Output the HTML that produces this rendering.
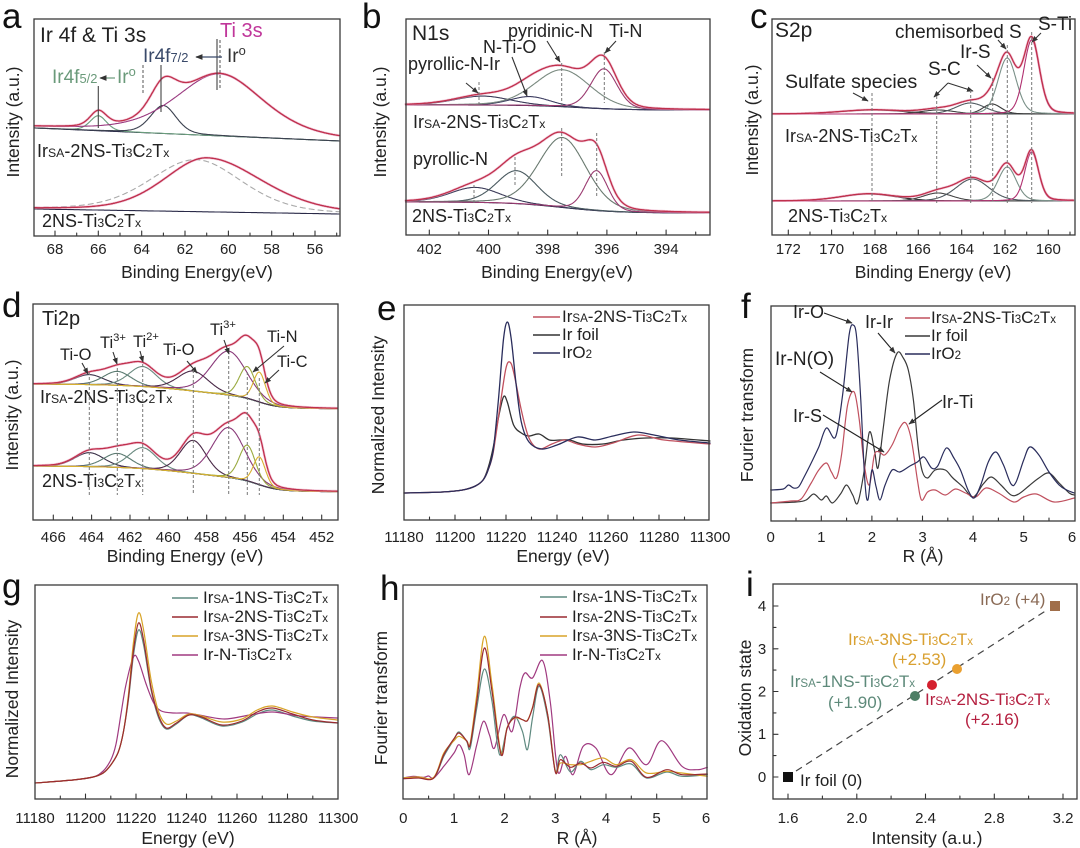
<!DOCTYPE html>
<html><head><meta charset="utf-8"><style>
html,body{margin:0;padding:0;background:#fff;}
svg{display:block;}
text{font-family:"Liberation Sans",Arial,sans-serif;fill:#222;}
.s{font-size:68%;}
.tk{font-size:15px;text-anchor:middle;}
.ti{font-size:17.5px;text-anchor:middle;}
.L{font-size:35px;fill:#111;}
.an{font-size:18px;}
.ad{font-size:16.5px;}
.lg{font-size:17px;}
</style></head><body>
<svg id="cv" width="1080" height="848" viewBox="0 0 1080 848" xmlns="http://www.w3.org/2000/svg">
<defs><marker id="ah" viewBox="0 0 10 10" refX="9" refY="5" markerWidth="6" markerHeight="6" orient="auto"><path d="M0,1L10,5L0,9z" fill="#333"/></marker></defs>
<rect width="1080" height="848" fill="#fff"/>
<g id="curves"></g>

<!-- frames -->
<g fill="none" stroke="#3a3a3a" stroke-width="1.3">
<rect x="34" y="19" width="306" height="217"/>
<rect x="406" y="19" width="304" height="216"/>
<rect x="772" y="19" width="303" height="216"/>
<rect x="33" y="304" width="305" height="216"/>
<rect x="404" y="305" width="305" height="215"/>
<rect x="771" y="306" width="304" height="215"/>
<rect x="35" y="585" width="303" height="214"/>
<rect x="403" y="585" width="304" height="214"/>
<rect x="773" y="584" width="304" height="215"/>
</g>

<!-- panel letters -->
<text class="L" x="2" y="28">a</text>
<text class="L" x="362" y="28">b</text>
<text class="L" x="750" y="28">c</text>
<text class="L" x="2" y="317">d</text>
<text class="L" x="377" y="320">e</text>
<text class="L" x="741" y="318">f</text>
<text class="L" x="2" y="598">g</text>
<text class="L" x="380" y="600">h</text>
<text class="L" x="746" y="596">i</text>

<!-- axis titles -->
<text class="ti" x="197" y="278">Binding Energy(eV)</text>
<text class="ti" x="557" y="278">Binding Energy(eV)</text>
<text class="ti" x="933" y="278">Binding Energy (eV)</text>
<text class="ti" x="185" y="562">Binding Energy (eV)</text>
<text class="ti" x="563" y="562">Energy (eV)</text>
<text class="ti" x="923" y="562">R (Å)</text>
<text class="ti" x="188" y="844">Energy (eV)</text>
<text class="ti" x="577" y="844">R (Å)</text>
<text class="ti" x="927" y="844">Intensity (a.u.)</text>

<text class="ti" transform="translate(19,122) rotate(-90)">Intensity (a.u.)</text>
<text class="ti" transform="translate(386,122) rotate(-90)">Intensity (a.u.)</text>
<text class="ti" transform="translate(758,120) rotate(-90)">Intensity (a.u.)</text>
<text class="ti" transform="translate(18,415) rotate(-90)">Intensity (a.u.)</text>
<text class="ti" transform="translate(384,415) rotate(-90)">Normalized Intensity</text>
<text class="ti" transform="translate(753,415) rotate(-90)">Fourier transform</text>
<text class="ti" transform="translate(18,699) rotate(-90)">Normalized Intensity</text>
<text class="ti" transform="translate(387,698) rotate(-90)">Fourier transform</text>
<text class="ti" transform="translate(751,698) rotate(-90)">Oxidation state</text>

<!-- tick labels -->
<g class="tk">
<text class="tk" x="55" y="254">68</text><text class="tk" x="98.3" y="254">66</text><text class="tk" x="141.7" y="254">64</text><text class="tk" x="185" y="254">62</text><text class="tk" x="228.3" y="254">60</text><text class="tk" x="271.7" y="254">58</text><text class="tk" x="315" y="254">56</text>
<text class="tk" x="429.3" y="254">402</text><text class="tk" x="488.5" y="254">400</text><text class="tk" x="547.7" y="254">398</text><text class="tk" x="606.9" y="254">396</text><text class="tk" x="666.1" y="254">394</text>
<text class="tk" x="788.3" y="254">172</text><text class="tk" x="831.6" y="254">170</text><text class="tk" x="875" y="254">168</text><text class="tk" x="918.3" y="254">166</text><text class="tk" x="961.6" y="254">164</text><text class="tk" x="1005" y="254">162</text><text class="tk" x="1048.3" y="254">160</text>
<text class="tk" x="53.3" y="542">466</text><text class="tk" x="91.6" y="542">464</text><text class="tk" x="130" y="542">462</text><text class="tk" x="168.3" y="542">460</text><text class="tk" x="206.7" y="542">458</text><text class="tk" x="245" y="542">456</text><text class="tk" x="283.3" y="542">454</text><text class="tk" x="321.7" y="542">452</text>
<text class="tk" x="404" y="542">11180</text><text class="tk" x="455" y="542">11200</text><text class="tk" x="506" y="542">11220</text><text class="tk" x="557" y="542">11240</text><text class="tk" x="608" y="542">11260</text><text class="tk" x="659" y="542">11280</text><text class="tk" x="710" y="542">11300</text>
<text class="tk" x="770.7" y="542">0</text><text class="tk" x="821.3" y="542">1</text><text class="tk" x="871.9" y="542">2</text><text class="tk" x="922.5" y="542">3</text><text class="tk" x="973.1" y="542">4</text><text class="tk" x="1023.7" y="542">5</text><text class="tk" x="1072" y="542">6</text>
<text class="tk" x="35" y="823">11180</text><text class="tk" x="85.5" y="823">11200</text><text class="tk" x="136" y="823">11220</text><text class="tk" x="186.5" y="823">11240</text><text class="tk" x="237" y="823">11260</text><text class="tk" x="287.5" y="823">11280</text><text class="tk" x="338" y="823">11300</text>
<text class="tk" x="403.3" y="823">0</text><text class="tk" x="454" y="823">1</text><text class="tk" x="504.6" y="823">2</text><text class="tk" x="555.3" y="823">3</text><text class="tk" x="606" y="823">4</text><text class="tk" x="656.6" y="823">5</text><text class="tk" x="706" y="823">6</text>
<text class="tk" x="788" y="823">1.6</text><text class="tk" x="856.75" y="823">2.0</text><text class="tk" x="925.5" y="823">2.4</text><text class="tk" x="994.25" y="823">2.8</text><text class="tk" x="1063" y="823">3.2</text>
<text class="tk" x="762" y="782">0</text><text class="tk" x="762" y="739">1</text><text class="tk" x="762" y="696.5">2</text><text class="tk" x="762" y="654">3</text><text class="tk" x="762" y="611">4</text>
</g>

<!-- panel a annotations -->
<text x="40" y="42" style="font-size:21px">Ir 4f &amp; Ti 3s</text>
<text x="220" y="37" style="font-size:20px;fill:#c0369a">Ti 3s</text>
<text x="143" y="62" style="font-size:19px;fill:#3a4a6a">Ir4f<tspan class="s">7/2</tspan></text>
<text x="227" y="62" style="font-size:19px;fill:#333">Ir<tspan class="s" dy="-7">o</tspan></text>
<text x="52" y="83" style="font-size:19px;fill:#6a9a7a">Ir4f<tspan class="s">5/2</tspan></text>
<text x="117" y="83" style="font-size:19px;fill:#6a9a7a">Ir<tspan class="s" dy="-7">o</tspan></text>
<path d="M98.3 86V128M161 65V112M217 39V90" stroke="#444" stroke-width="1.1" fill="none"/>
<path d="M220 40V90M143 65V95" stroke="#555" stroke-width="1" stroke-dasharray="3,2" fill="none"/>
<line x1="222" y1="57" x2="196" y2="57" stroke="#3a4a6a" stroke-width="1.2" marker-end="url(#ah)"/>
<line x1="115" y1="78" x2="100" y2="78" stroke="#6a9a7a" stroke-width="1.2" marker-end="url(#ah)"/>
<text class="an" x="37" y="157">Ir<tspan class="s">SA</tspan>-2NS-Ti<tspan class="s">3</tspan>C<tspan class="s">2</tspan>T<tspan class="s">x</tspan></text>
<text class="an" x="42" y="227">2NS-Ti<tspan class="s">3</tspan>C<tspan class="s">2</tspan>T<tspan class="s">x</tspan></text>

<!-- panel b annotations -->
<text x="412" y="40" style="font-size:21px">N1s</text>
<text class="an" x="508" y="37">pyridinic-N</text>
<text class="an" x="609" y="37">Ti-N</text>
<text class="an" x="483" y="53">N-Ti-O</text>
<text class="an" x="408" y="70">pyrollic-N-Ir</text>
<text class="an" x="413" y="128">Ir<tspan class="s">SA</tspan>-2NS-Ti<tspan class="s">3</tspan>C<tspan class="s">2</tspan>T<tspan class="s">x</tspan></text>
<text class="an" x="413" y="165">pyrollic-N</text>
<text class="an" x="412" y="222">2NS-Ti<tspan class="s">3</tspan>C<tspan class="s">2</tspan>T<tspan class="s">x</tspan></text>
<g stroke="#333" stroke-width="1.1" marker-end="url(#ah)">
<line x1="547" y1="41" x2="560" y2="62"/><line x1="616" y1="41" x2="605" y2="53"/><line x1="512" y1="57" x2="527" y2="96"/><line x1="466" y1="83" x2="478" y2="93"/>
</g>
<path d="M479 82V105M561.7 63V107M604.3 52V103M474 185V203M515 157V187M561.7 128V177M596.7 133V197" stroke="#777" stroke-width="1" stroke-dasharray="3,2" fill="none"/>

<!-- panel c annotations -->
<text x="775" y="37" style="font-size:21px">S2p</text>
<text x="895" y="38" style="font-size:19px">chemisorbed S</text>
<text x="1038" y="30" style="font-size:19px">S-Ti</text>
<text x="960" y="58" style="font-size:19px">Ir-S</text>
<text x="928" y="75" style="font-size:19px">S-C</text>
<text x="785" y="88" style="font-size:19.5px">Sulfate species</text>
<text class="an" x="785" y="142">Ir<tspan class="s">SA</tspan>-2NS-Ti<tspan class="s">3</tspan>C<tspan class="s">2</tspan>T<tspan class="s">x</tspan></text>
<text class="an" x="788" y="222">2NS-Ti<tspan class="s">3</tspan>C<tspan class="s">2</tspan>T<tspan class="s">x</tspan></text>
<g stroke="#333" stroke-width="1.1" marker-end="url(#ah)">
<line x1="853" y1="93" x2="868" y2="101"/><line x1="948" y1="83" x2="934" y2="97"/><line x1="948" y1="83" x2="973" y2="91"/><line x1="977" y1="65" x2="991" y2="78"/><line x1="998" y1="40" x2="1006" y2="49"/><line x1="1041" y1="33" x2="1032" y2="42"/>
</g>
<path d="M872 93V203M936.7 96V203M970.7 90V203M992.7 78V203M1007.3 45V203M1031.7 32V203" stroke="#777" stroke-width="1" stroke-dasharray="3,2" fill="none"/>

<!-- panel d annotations -->
<text x="42" y="325" style="font-size:20px">Ti2p</text>
<text class="ad" x="60" y="360">Ti-O</text>
<text class="ad" x="100" y="348">Ti<tspan class="s" dy="-7">3+</tspan></text>
<text class="ad" x="133" y="347">Ti<tspan class="s" dy="-7">2+</tspan></text>
<text class="ad" x="163" y="355">Ti-O</text>
<text class="ad" x="210" y="335">Ti<tspan class="s" dy="-7">3+</tspan></text>
<text class="ad" x="267" y="342">Ti-N</text>
<text class="ad" x="277" y="367">Ti-C</text>
<text class="an" x="40" y="403">Ir<tspan class="s">SA</tspan>-2NS-Ti<tspan class="s">3</tspan>C<tspan class="s">2</tspan>T<tspan class="s">x</tspan></text>
<text class="an" x="42" y="487">2NS-Ti<tspan class="s">3</tspan>C<tspan class="s">2</tspan>T<tspan class="s">x</tspan></text>
<g stroke="#333" stroke-width="1.1" marker-end="url(#ah)">
<line x1="82" y1="363" x2="88" y2="374"/><line x1="113" y1="352" x2="117" y2="364"/><line x1="140" y1="351" x2="143" y2="362"/><line x1="187" y1="361" x2="197" y2="373"/><line x1="224" y1="340" x2="229" y2="354"/><line x1="284" y1="346" x2="253" y2="372"/><line x1="279" y1="370" x2="265" y2="383"/>
</g>
<path d="M89.3 372V495M117.3 368V495M142.7 364V495M193.3 370V495M228.7 356V495M247.3 372V495M259.3 378V495" stroke="#777" stroke-width="1" stroke-dasharray="3,2" fill="none"/>

<!-- panel e legend -->
<path d="M533 317H560" stroke="#c0505e" stroke-width="1.6"/>
<path d="M533 335H560" stroke="#333" stroke-width="1.6"/>
<path d="M533 353H560" stroke="#2a2d5c" stroke-width="1.6"/>
<text class="lg" x="562" y="322">Ir<tspan class="s">SA</tspan>-2NS-Ti<tspan class="s">3</tspan>C<tspan class="s">2</tspan>T<tspan class="s">x</tspan></text>
<text class="lg" x="562" y="340">Ir foil</text>
<text class="lg" x="562" y="358">IrO<tspan class="s">2</tspan></text>

<!-- panel f annotations -->
<path d="M905 318H930" stroke="#c0505e" stroke-width="1.6"/>
<path d="M905 336H930" stroke="#3a3a3a" stroke-width="1.6"/>
<path d="M905 354H930" stroke="#2a2d5c" stroke-width="1.6"/>
<text class="lg" x="931" y="323">Ir<tspan class="s">SA</tspan>-2NS-Ti<tspan class="s">3</tspan>C<tspan class="s">2</tspan>T<tspan class="s">x</tspan></text>
<text class="lg" x="931" y="341">Ir foil</text>
<text class="lg" x="931" y="359">IrO<tspan class="s">2</tspan></text>
<text class="an" x="793" y="318">Ir-O</text>
<text class="an" x="865" y="328">Ir-Ir</text>
<text class="an" x="775" y="365" style="font-size:19px">Ir-N(O)</text>
<text class="an" x="793" y="422">Ir-S</text>
<text class="an" x="942" y="408">Ir-Ti</text>
<g stroke="#222" stroke-width="1.1" marker-end="url(#ah)">
<line x1="824" y1="313" x2="852" y2="323"/><line x1="878" y1="333" x2="895" y2="353"/><line x1="820" y1="372" x2="852" y2="392"/><line x1="823" y1="415" x2="884" y2="452"/><line x1="942" y1="400" x2="909" y2="424"/>
</g>

<!-- panel g legend -->
<path d="M172 598H198" stroke="#5f8a80" stroke-width="1.6"/>
<path d="M172 617H198" stroke="#9a2a30" stroke-width="1.6"/>
<path d="M172 636H198" stroke="#d8a428" stroke-width="1.6"/>
<path d="M172 655H198" stroke="#a03a80" stroke-width="1.6"/>
<text class="lg" x="203" y="603">Ir<tspan class="s">SA</tspan>-1NS-Ti<tspan class="s">3</tspan>C<tspan class="s">2</tspan>T<tspan class="s">x</tspan></text>
<text class="lg" x="203" y="622">Ir<tspan class="s">SA</tspan>-2NS-Ti<tspan class="s">3</tspan>C<tspan class="s">2</tspan>T<tspan class="s">x</tspan></text>
<text class="lg" x="203" y="641">Ir<tspan class="s">SA</tspan>-3NS-Ti<tspan class="s">3</tspan>C<tspan class="s">2</tspan>T<tspan class="s">x</tspan></text>
<text class="lg" x="203" y="660">Ir-N-Ti<tspan class="s">3</tspan>C<tspan class="s">2</tspan>T<tspan class="s">x</tspan></text>

<!-- panel h legend -->
<path d="M540 597H567" stroke="#5f8a80" stroke-width="1.6"/>
<path d="M540 617H567" stroke="#9a2a30" stroke-width="1.6"/>
<path d="M540 636H567" stroke="#d8a428" stroke-width="1.6"/>
<path d="M540 655H567" stroke="#a03a80" stroke-width="1.6"/>
<text class="lg" x="572" y="602">Ir<tspan class="s">SA</tspan>-1NS-Ti<tspan class="s">3</tspan>C<tspan class="s">2</tspan>T<tspan class="s">x</tspan></text>
<text class="lg" x="572" y="622">Ir<tspan class="s">SA</tspan>-2NS-Ti<tspan class="s">3</tspan>C<tspan class="s">2</tspan>T<tspan class="s">x</tspan></text>
<text class="lg" x="572" y="641">Ir<tspan class="s">SA</tspan>-3NS-Ti<tspan class="s">3</tspan>C<tspan class="s">2</tspan>T<tspan class="s">x</tspan></text>
<text class="lg" x="572" y="660">Ir-N-Ti<tspan class="s">3</tspan>C<tspan class="s">2</tspan>T<tspan class="s">x</tspan></text>

<!-- panel i -->
<line x1="796" y1="771" x2="1047" y2="610" stroke="#444" stroke-width="1.2" stroke-dasharray="7,5"/>
<rect x="783" y="772" width="10" height="10" fill="#111"/>
<rect x="1050" y="601" width="10" height="10" fill="#a06e4a"/>
<circle cx="915" cy="696" r="5" fill="#4e7e66"/>
<circle cx="932" cy="685" r="5" fill="#d4202e"/>
<circle cx="957" cy="669" r="5" fill="#eaa030"/>
<text class="lg" x="980" y="605" style="fill:#8a6a55">IrO<tspan class="s">2</tspan> (+4)</text>
<text class="lg" x="848" y="645" style="fill:#d9a030">Ir<tspan class="s">SA</tspan>-3NS-Ti<tspan class="s">3</tspan>C<tspan class="s">2</tspan>T<tspan class="s">x</tspan></text>
<text class="lg" x="892" y="665" style="fill:#d9a030">(+2.53)</text>
<text class="lg" x="790" y="687" style="fill:#5e8a7a">Ir<tspan class="s">SA</tspan>-1NS-Ti<tspan class="s">3</tspan>C<tspan class="s">2</tspan>T<tspan class="s">x</tspan></text>
<text class="lg" x="828" y="708" style="fill:#5e8a7a">(+1.90)</text>
<text class="lg" x="925" y="705" style="fill:#b52040">Ir<tspan class="s">SA</tspan>-2NS-Ti<tspan class="s">3</tspan>C<tspan class="s">2</tspan>T<tspan class="s">x</tspan></text>
<text class="lg" x="965" y="725" style="fill:#b52040">(+2.16)</text>
<text class="lg" x="800" y="786">Ir foil (0)</text>
</svg>
<script>
(function(){
const NS='http://www.w3.org/2000/svg';const G=document.getElementById('curves');
function add(a){const e=document.createElementNS(NS,'path');e.setAttribute('fill','none');for(const k in a)e.setAttribute(k,a[k]);G.appendChild(e);return e;}
function ln(d,c,w,da){const a={d:d,stroke:c,'stroke-width':w||1.2,'stroke-linejoin':'round','stroke-linecap':'round'};if(da)a['stroke-dasharray']=da;return add(a);}
function poly(p){return 'M'+p.map(q=>q[0].toFixed(1)+' '+q[1].toFixed(1)).join('L');}
function cr(p){let d='M'+p[0][0].toFixed(1)+' '+p[0][1].toFixed(1);
 for(let i=0;i<p.length-1;i++){const p0=p[i-1]||p[i],p1=p[i],p2=p[i+1],p3=p[i+2]||p2;
  const c1=[p1[0]+(p2[0]-p0[0])/6,p1[1]+(p2[1]-p0[1])/6],c2=[p2[0]-(p3[0]-p1[0])/6,p2[1]-(p3[1]-p1[1])/6];
  d+='C'+c1[0].toFixed(1)+' '+c1[1].toFixed(1)+' '+c2[0].toFixed(1)+' '+c2[1].toFixed(1)+' '+p2[0].toFixed(1)+' '+p2[1].toFixed(1);}
 return d;}
const sig=x=>1/(1+Math.exp(-x));
function pv(x,c,f,e){const t=(x-c)/f;return e/(1+4*t*t)+(1-e)*Math.exp(-2.7726*t*t);}
function spec(X,E0,E1,bg,comps,o){o=o||{};const N=400,Es=[];for(let i=0;i<=N;i++)Es.push(E0+(E1-E0)*i/N);
 ln(poly(Es.map(E=>[X(E),bg(E)])),o.bgc||'#2d2d48',1.1);
 const tot=Es.map(()=>0);
 comps.forEach(c=>{c.ys=Es.map((E,i)=>{let f=c.f;if(c.fl&&E>c.c)f=c.fl;if(c.fr&&E<c.c)f=c.fr;const v=c.h*pv(E,c.c,f,c.e==null?0.2:c.e);tot[i]+=v;return [X(E),bg(E)-v];});});
 comps.forEach(c=>ln(poly(c.ys),c.col||'#444',1.1));
 const env=Es.map((E,i)=>[X(E),bg(E)-tot[i]]);
 ln(poly(env),'#eaa0c0',2.6).setAttribute('opacity','0.55');
 ln(poly(env),o.env||'#c0304c',1.3);
 return Es;}
function ticks(X,maj,min,y){let d='';maj.forEach(v=>{d+='M'+X(v).toFixed(1)+' '+y+'v-5';});min.forEach(v=>{d+='M'+X(v).toFixed(1)+' '+y+'v-3';});ln(d,'#333',1.1);}
function rng(a,b,s){const r=[];for(let v=a;s>0?v<=b+1e-9:v>=b-1e-9;v+=s)r.push(+v.toFixed(4));return r;}

/* ---- a ---- */
const Xa=E=>55+(68-E)*21.67;
spec(Xa,68.95,54.9,E=>128+(Xa(E)-34)/306*13,[
 {c:66,h:15,f:0.9,e:.3,col:'#6a9c7c'},{c:63,h:28,f:1.4,e:.3,col:'#3c4250'},{c:60.4,h:62,f:4.8,e:.45,col:'#9a3a80'}],{bgc:'#2a2a48'});
(function(){const N=300,pts=[];for(let i=0;i<=N;i++){const E=68.95-(68.95-54.9)*i/N;pts.push([Xa(E),209+(Xa(E)-34)/306*5-52*pv(E,61.5,5.0,.3)]);}ln(poly(pts),'#aaa',1.1,'5,4');})();
spec(Xa,68.95,54.9,E=>209+(Xa(E)-34)/306*5,[{c:61.0,h:54,f:5,fl:4.6,fr:6.0,e:.3,col:'#9a3a80'}],{bgc:'#2a2a48'});
ticks(Xa,rng(68,56,-2),rng(67,55,-2),236);

/* ---- b ---- */
const Xb=E=>429.3+(402-E)*29.6;
spec(Xb,402.8,392.55,E=>110-5*sig((E-397)/0.8),[
 {c:400.2,h:9,f:2.2,col:'#3a3a58'},{c:398.6,h:9,f:1.6,col:'#3c3c60'},{c:397.5,h:37,f:2.2,col:'#7a8a80'},{c:396.1,h:40,f:1.05,col:'#9a3a70'}]);
spec(Xb,402.8,392.55,E=>213-11*sig((E-397.5)/0.9),[
 {c:400.45,h:15,f:2.0,col:'#3a3a58'},{c:399.05,h:33,f:1.6,col:'#4a5a60'},{c:397.5,h:70,f:1.9,col:'#6a7a70'},{c:396.35,h:40,f:0.9,col:'#9a3a70'}]);
ticks(Xb,rng(402,394,-2),rng(401,393,-2),235);

/* ---- c ---- */
const Xc=E=>788.3+(172-E)*21.67;
spec(Xc,172.7,158.85,E=>114,[
 {c:168.1,h:4,f:3.5,col:'#333'},{c:165.1,h:4,f:1.8,col:'#444'},{c:163.6,h:11,f:1.6,col:'#505a60'},{c:162.6,h:10,f:1.0,col:'#3a3a3a'},{c:161.9,h:56,f:1.0,col:'#7a9088'},{c:160.77,h:74,f:0.85,col:'#b03070'}],{bgc:'#a04050'});
spec(Xc,172.7,158.85,E=>201,[
 {c:168.3,h:7,f:3.0,col:'#333'},{c:165.1,h:8,f:1.6,col:'#444'},{c:163.5,h:22,f:1.8,col:'#505a60'},{c:161.9,h:34,f:1.0,col:'#7a9088'},{c:160.77,h:49,f:0.75,col:'#b03070'}],{bgc:'#a04050'});
ticks(Xc,rng(172,160,-2),rng(171,159,-2),235);

/* ---- d ---- */
const Xd=E=>53.3+(466-E)*19.17;
const Sd=E=>0.6*sig((E-458.5)/1.8)+0.4*sig((E-455.3)/0.5);
const dcol=['#3a3048','#5a7a70','#6a8a80','#4a2a48','#8a3a7a','#9aaa40','#d8b030'];
const dc=[464.12,462.66,461.34,458.7,456.85,455.88,455.25];
const dhT=[10,14,20,20,44,32,30],dfT=[1.8,1.7,1.7,1.9,2.2,1.0,0.75];
const dhB=[14,14,21,33,50,36,28],dfB=[1.8,1.7,1.7,1.6,2.0,1.0,0.75];
spec(Xd,467.0,451.2,E=>409-25*Sd(E),dc.map((c,i)=>({c:c,h:dhT[i],f:dfT[i],col:dcol[i]})),{bgc:'#8a9a60'});
spec(Xd,467.0,451.2,E=>492-26*Sd(E),dc.map((c,i)=>({c:c,h:dhB[i],f:dfB[i],col:dcol[i]})),{bgc:'#3a3a6a'});
ticks(Xd,rng(466,452,-2),rng(465,453,-2),520);

/* ---- e ---- */
const Xe=E=>404+(E-11180)*2.55;
const mp=(L,fx)=>L.map(p=>[fx(p[0]),p[1]]);
const eFoil=[[11180,493],[11195,492],[11203,490],[11208,486],[11211,480],[11213,468],[11215,447],[11217,418],[11219,397],[11220.5,402],[11223,425],[11226,433],[11229,436],[11233,434],[11237,440],[11241,440],[11245,440],[11250,444],[11258,444],[11266,440],[11275,438],[11285,438],[11300,441]];
const eSA=[[11180,493],[11195,492],[11203,490],[11208,486],[11211,480],[11213,470],[11215,452],[11218,400],[11220,368],[11221.5,362],[11223,372],[11226,410],[11229,438],[11233,449],[11238,444],[11243,440],[11248,444],[11255,447],[11262,443],[11272,435],[11282,440],[11300,444]];
const eO2=[[11180,493],[11195,492],[11203,490],[11208,486],[11211,480],[11213,470],[11215,450],[11217,400],[11219,340],[11220.5,322],[11222,338],[11224,385],[11226,422],[11229,442],[11234,449],[11240,445],[11248,437],[11255,440],[11262,436],[11270,432],[11278,435],[11288,440],[11300,443]];
ln(cr(mp(eFoil,Xe)),'#333',1.3);ln(cr(mp(eSA,Xe)),'#c0505e',1.3);ln(cr(mp(eO2,Xe)),'#2a2d5c',1.3);
ticks(Xe,rng(11200,11280,20),rng(11190,11290,20),520);

/* ---- f ---- */
const Xf=R=>770.7+R*50.6;
const fO2=[[0,490],[0.25,489],[0.35,485],[0.45,488],[0.55,487],[0.65,478],[0.8,463],[0.95,447],[1.1,428],[1.28,437],[1.42,395],[1.55,335],[1.63,325],[1.7,338],[1.78,400],[1.86,480],[1.92,500],[2.0,470],[2.08,486],[2.16,500],[2.26,485],[2.4,470],[2.55,472],[2.75,466],[2.9,462],[3.03,457],[3.18,468],[3.3,466],[3.47,448],[3.62,458],[3.75,470],[3.9,490],[4.02,498],[4.15,485],[4.3,462],[4.45,452],[4.6,465],[4.75,484],[4.85,482],[5.0,460],[5.12,447],[5.3,455],[5.5,472],[5.7,485],[5.85,490],[6,493]];
const fFoil=[[0,503],[0.5,502],[0.7,500],[0.85,494],[1.0,500],[1.1,496],[1.22,503],[1.38,494],[1.5,485],[1.62,495],[1.72,503],[1.85,470],[1.95,432],[2.05,450],[2.12,468],[2.22,430],[2.35,380],[2.5,353],[2.62,358],[2.72,370],[2.82,400],[2.92,450],[3.0,472],[3.1,478],[3.25,470],[3.45,470],[3.6,478],[3.8,487],[4.0,497],[4.2,484],[4.36,477],[4.55,485],[4.75,495],[4.9,494],[5.1,486],[5.3,478],[5.5,473],[5.7,483],[5.9,493],[6,495]];
const fSA=[[0,503],[0.4,501],[0.6,499],[0.8,483],[0.95,470],[1.1,463],[1.2,472],[1.3,478],[1.4,455],[1.52,405],[1.65,392],[1.75,420],[1.85,465],[1.95,485],[2.05,455],[2.15,452],[2.25,455],[2.4,445],[2.55,428],[2.67,423],[2.78,440],[2.9,480],[2.98,500],[3.1,492],[3.25,490],[3.45,495],[3.65,489],[3.85,493],[4.05,497],[4.25,488],[4.5,493],[4.8,502],[5.0,497],[5.25,494],[5.6,502],[6,498]];
ln(cr(mp(fFoil,Xf)),'#3a3a3a',1.2);ln(cr(mp(fSA,Xf)),'#c0505e',1.2);ln(cr(mp(fO2,Xf)),'#2a2d5c',1.2);
ticks(Xf,rng(1,5,1),rng(0.5,5.5,1),521);

/* ---- g ---- */
const Xg=E=>35+(E-11180)*2.525;
const gPre=[[11180,783],[11195,780],[11203,777],[11207,773]];
const g1=gPre.concat([[11210,765],[11213,752],[11215,732],[11217,700],[11219,655],[11221,630],[11223,645],[11226,690],[11229,718],[11232,729],[11236,724],[11241,715],[11246,718],[11254,726],[11262,722],[11268,714],[11274,710],[11282,716],[11290,721],[11300,723]]);
const g2=gPre.concat([[11210,765],[11213,752],[11215,732],[11217,698],[11219,650],[11221,623],[11223,640],[11226,688],[11229,716],[11232,728],[11236,723],[11241,715],[11246,717],[11254,725],[11262,721],[11268,712],[11274,708],[11282,714],[11290,720],[11300,723]]);
const g3=gPre.concat([[11210,765],[11213,752],[11215,732],[11217,695],[11219,642],[11221,613],[11223,630],[11226,680],[11229,712],[11232,724],[11236,721],[11241,714],[11246,716],[11254,722],[11262,719],[11268,710],[11274,706],[11282,712],[11290,717],[11300,720]]);
const gN=[[11180,783],[11195,780],[11203,777],[11207,771],[11210,760],[11212,745],[11214,715],[11216,685],[11219,657],[11221,661],[11224,684],[11227,703],[11230,711],[11235,713],[11240,713],[11245,715],[11255,719],[11265,715],[11274,712],[11285,716],[11300,718]];
ln(cr(mp(g1,Xg)),'#5f8a80',1.2);ln(cr(mp(gN,Xg)),'#a03a80',1.2);ln(cr(mp(g3,Xg)),'#d8a428',1.2);ln(cr(mp(g2,Xg)),'#9a2a30',1.2);
ticks(Xg,rng(11200,11280,20),rng(11190,11290,20),799);

/* ---- h ---- */
const Xh=R=>403.3+R*50.67;
const mz=L=>L.map(p=>[Xh(p[0]),568+p[1]/3]);
const hN=[[0,630],[0.2,625],[0.4,628],[0.5,624],[0.6,630],[0.8,595],[1.0,555],[1.1,530],[1.2,560],[1.3,620],[1.45,530],[1.58,460],[1.7,500],[1.8,540],[1.98,440],[2.15,490],[2.3,360],[2.4,315],[2.55,330],[2.75,278],[2.9,400],[3.05,610],[3.2,565],[3.35,620],[3.55,535],[3.8,540],[4.1,620],[4.45,540],[4.8,590],[5.1,518],[5.5,595],[5.8,605],[6.0,598]];
const h1=[[0,632],[0.3,628],[0.6,630],[0.8,565],[1.0,515],[1.1,492],[1.25,520],[1.32,540],[1.45,420],[1.6,303],[1.75,400],[1.9,560],[2.05,480],[2.2,445],[2.35,490],[2.45,545],[2.55,450],[2.68,355],[2.85,450],[3.0,610],[3.1,560],[3.3,612],[3.5,580],[3.7,605],[3.95,590],[4.2,598],[4.5,588],[4.8,630],[5.2,612],[5.5,625],[6,620]];
const h2=[[0,632],[0.3,630],[0.6,630],[0.8,560],[1.0,512],[1.1,495],[1.25,518],[1.32,530],[1.45,400],[1.6,240],[1.75,370],[1.93,560],[2.05,480],[2.2,448],[2.35,455],[2.45,458],[2.55,420],[2.68,350],[2.85,440],[3.0,612],[3.1,575],[3.3,598],[3.5,585],[3.7,600],[3.95,583],[4.2,595],[4.5,580],[4.8,628],[5.2,605],[5.5,620],[6,618]];
const h3=[[0,630],[0.3,627],[0.6,628],[0.8,555],[1.0,518],[1.1,505],[1.25,518],[1.32,525],[1.45,380],[1.6,205],[1.75,350],[1.93,555],[2.05,478],[2.2,450],[2.35,455],[2.45,457],[2.55,418],[2.68,345],[2.85,440],[3.0,608],[3.1,585],[3.3,590],[3.5,590],[3.7,580],[3.95,570],[4.2,590],[4.5,575],[4.8,615],[5.2,610],[5.5,615],[6,625]];
ln(cr(mz(hN)),'#a03a80',1.2);ln(cr(mz(h1)),'#5f8a80',1.2);ln(cr(mz(h3)),'#d8a428',1.2);ln(cr(mz(h2)),'#9a2a30',1.2);
ticks(Xh,rng(1,5,1),rng(0.5,5.5,1),799);

/* ---- i ---- */
const Xi=v=>788+(v-1.6)/0.4*68.75;
ticks(Xi,rng(1.6,3.2,0.4),rng(1.8,3.0,0.4),799);
let d='';[0,1,2,3,4].forEach(v=>{d+='M773 '+(777-v*42.75).toFixed(1)+'h5';});[0.5,1.5,2.5,3.5].forEach(v=>{d+='M773 '+(777-v*42.75).toFixed(1)+'h3';});ln(d,'#333',1.1);
})();
</script>
</body></html>
